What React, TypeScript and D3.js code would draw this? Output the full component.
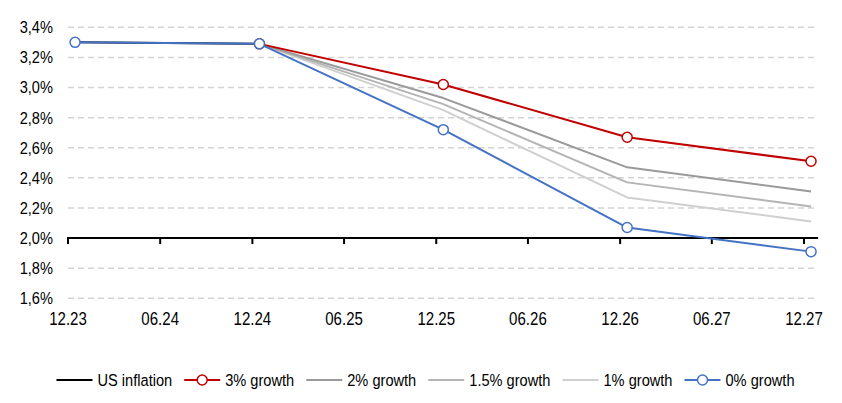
import { useEffect, useRef } from 'react';
import * as d3 from 'd3';

const W = 842;
const H = 403;

const pointDates = ['2023-12-15', '2024-12-15', '2025-12-15', '2026-12-15', '2027-12-15'];
const tickDates = [
  '2023-12-01', '2024-06-01', '2024-12-01', '2025-06-01', '2025-12-01',
  '2026-06-01', '2026-12-01', '2027-06-01', '2027-12-01',
];
const tickLabels = ['12.23', '06.24', '12.24', '06.25', '12.25', '06.26', '12.26', '06.27', '12.27'];
const yTicks = [1.6, 1.8, 2.0, 2.2, 2.4, 2.6, 2.8, 3.0, 3.2, 3.4];

const usInflation = [3.30, 3.29, null, null, null];
const growth3 = [null, 3.29, 3.02, 2.67, 2.51];
const growth2 = [null, 3.29, 2.93, 2.47, 2.31];
const growth15 = [null, 3.29, 2.89, 2.37, 2.21];
const growth1 = [null, 3.29, 2.85, 2.27, 2.11];
const growth0 = [3.30, 3.29, 2.72, 2.07, 1.91];

interface Series {
  name: string;
  values: (number | null)[];
  color: string;
  marker: boolean;
}

const SERIES: Series[] = [
  { name: 'US inflation', values: usInflation, color: '#000000', marker: false },
  { name: '3% growth', values: growth3, color: '#c00000', marker: true },
  { name: '2% growth', values: growth2, color: '#9a9a9a', marker: false },
  { name: '1.5% growth', values: growth15, color: '#b4b4b4', marker: false },
  { name: '1% growth', values: growth1, color: '#cfcfcf', marker: false },
  { name: '0% growth', values: growth0, color: '#4472c4', marker: true },
];

// greys first, then red, blue on top
const DRAW_ORDER = [0, 4, 3, 2, 1, 5];

const FONT = '"Liberation Sans", Arial, sans-serif';
// the original uses a narrow face; squeeze regular Arial horizontally instead
const SQUEEZE = 0.86;

type G = d3.Selection<SVGGElement, unknown, null, undefined>;

function narrowText(g: G, x: number, y: number, txt: string, size: number, anchor: string) {
  return g.append('text')
    .attr('transform', `translate(${x},${y}) scale(${SQUEEZE},1)`)
    .attr('dy', '0.35em')
    .attr('text-anchor', anchor)
    .attr('font-family', FONT).attr('font-size', size).attr('fill', '#000')
    .text(txt);
}

export default function App() {
  const svgRef = useRef<SVGSVGElement>(null);

  useEffect(() => {
    if (!svgRef.current) return;
    const svg = d3.select(svgRef.current);
    svg.selectAll('*').remove();
    const root = svg.append('g') as G;

    const parse = d3.timeParse('%Y-%m-%d');
    const x = d3.scaleTime()
      .domain([parse('2023-12-01')!, parse('2027-12-01')!])
      .range([68, 804]);
    const y = d3.scaleLinear().domain([1.6, 3.4]).range([298.3, 27.3]);
    const xEnd = x(parse('2027-12-29')!);
    const fmt = (v: number) => d3.format('.1f')(v).replace('.', ',') + '%';

    // grid
    root.append('g').selectAll('line')
      .data(yTicks.filter(v => v !== 2.0)).join('line')
      .attr('x1', 68).attr('x2', xEnd)
      .attr('y1', d => y(d)).attr('y2', d => y(d))
      .attr('stroke', '#d4d4d4').attr('stroke-width', 1.5)
      .attr('stroke-dasharray', '6 4');

    // y labels
    const yl = root.append('g') as G;
    yTicks.forEach(v => narrowText(yl, 53, y(v), fmt(v), 17, 'end'));

    // x axis sits at 2.0%
    const axisY = y(2.0);
    root.append('line')
      .attr('x1', 67).attr('x2', xEnd).attr('y1', axisY).attr('y2', axisY)
      .attr('stroke', '#000').attr('stroke-width', 2);
    root.append('g').selectAll('line')
      .data(tickDates).join('line')
      .attr('x1', d => x(parse(d)!)).attr('x2', d => x(parse(d)!))
      .attr('y1', axisY).attr('y2', axisY + 6)
      .attr('stroke', '#000').attr('stroke-width', 2);
    const xl = root.append('g') as G;
    tickDates.forEach((d, i) => narrowText(xl, x(parse(d)!), 319, tickLabels[i], 17.5, 'middle'));

    // series
    const line = d3.line<[Date, number | null]>()
      .defined(d => d[1] !== null)
      .x(d => x(d[0]))
      .y(d => y(d[1] as number));

    DRAW_ORDER.forEach(idx => {
      const s = SERIES[idx];
      const pts: [Date, number | null][] = s.values.map((v, i) => [parse(pointDates[i])!, v]);
      root.append('path')
        .datum(pts)
        .attr('d', line)
        .attr('fill', 'none')
        .attr('stroke', s.color)
        .attr('stroke-width', 2)
        .attr('stroke-linejoin', 'round');
      if (s.marker) {
        root.append('g').selectAll('circle')
          .data(pts.filter(p => p[1] !== null)).join('circle')
          .attr('cx', d => x(d[0])).attr('cy', d => y(d[1] as number))
          .attr('r', 5)
          .attr('fill', '#fff')
          .attr('stroke', s.color).attr('stroke-width', 1.5);
      }
    });

    // legend
    const legendY = 380;
    const lineLen = 36;
    const gapText = 5;
    const gapItem = 12;
    const lg = root.append('g') as G;
    const widths = SERIES.map(s => {
      const t = narrowText(lg, 0, 0, s.name, 17, 'start');
      const w = (t.node() as SVGTextElement).getComputedTextLength() * SQUEEZE;
      t.remove();
      return w;
    });
    const total = d3.sum(widths) + SERIES.length * (lineLen + gapText) + (SERIES.length - 1) * gapItem;
    let cx = 425.5 - total / 2;
    SERIES.forEach((s, i) => {
      lg.append('line')
        .attr('x1', cx).attr('x2', cx + lineLen)
        .attr('y1', legendY).attr('y2', legendY)
        .attr('stroke', s.color).attr('stroke-width', 2);
      if (s.marker) {
        lg.append('circle')
          .attr('cx', cx + lineLen / 2).attr('cy', legendY).attr('r', 5)
          .attr('fill', '#fff').attr('stroke', s.color).attr('stroke-width', 1.5);
      }
      narrowText(lg, cx + lineLen + gapText, legendY, s.name, 17, 'start');
      cx += lineLen + gapText + widths[i] + gapItem;
    });
  }, []);

  return (
    <div style={{ position: 'absolute', left: 0, top: 0, width: W, height: H, background: '#fff' }}>
      <svg ref={svgRef} width={W} height={H} />
    </div>
  );
}
